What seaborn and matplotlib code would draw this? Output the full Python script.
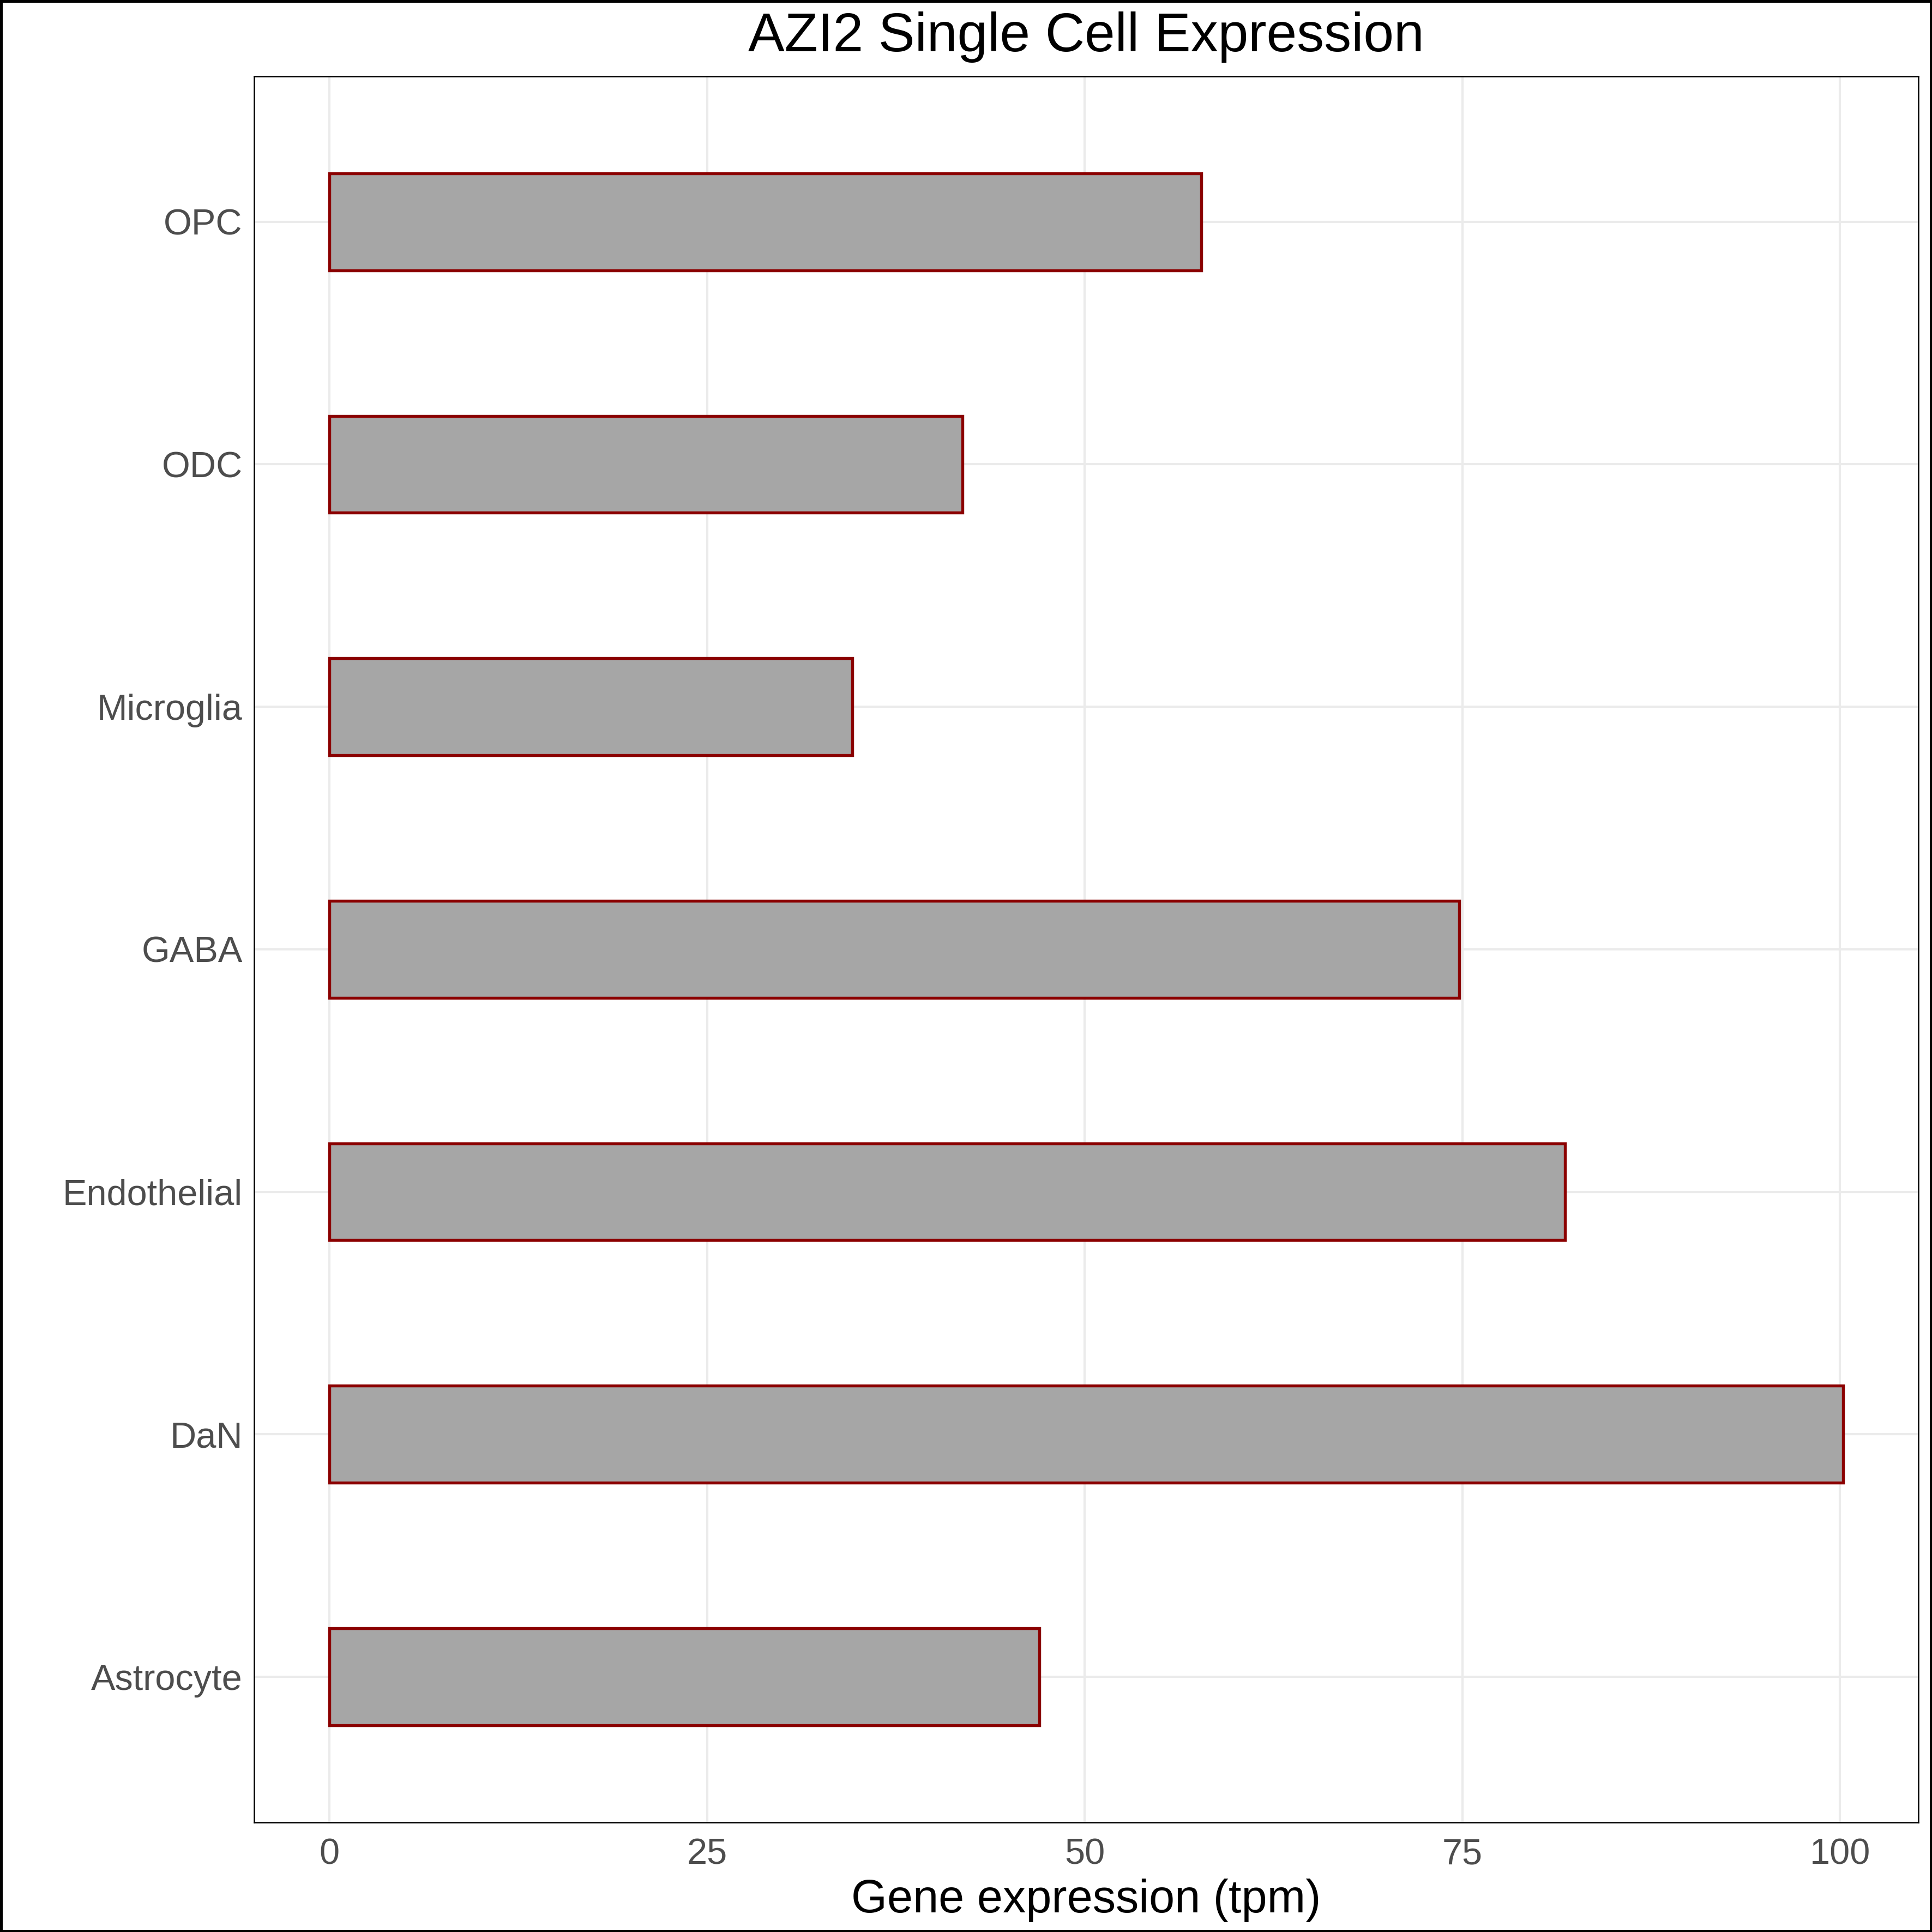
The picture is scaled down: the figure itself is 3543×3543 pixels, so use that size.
import pandas as pd
import matplotlib
matplotlib.use("Agg")
import matplotlib.pyplot as plt
import seaborn as sns
from matplotlib.patches import Rectangle

# values (top to bottom)
cell_types = ["OPC", "ODC", "Microglia", "GABA", "Endothelial", "DaN", "Astrocyte"]
expression = [57.7, 41.9, 34.6, 74.8, 81.8, 100.2, 47.0]
x_ticks = [0, 25, 50, 75, 100]

df = pd.DataFrame({"cell_type": cell_types, "tpm": expression})

sns.set_style("white")
plt.rcParams["font.family"] = ["Liberation Sans", "DejaVu Sans"]

fig = plt.figure(figsize=(11.81, 11.81), dpi=300)
ax = fig.add_axes([0.1314, 0.0568, 0.8616, 0.9037])

sns.barplot(
    data=df, x="tpm", y="cell_type", order=cell_types, orient="h",
    width=0.4, color="#A6A6A6", saturation=1,
    edgecolor="#8B0000", linewidth=1.3, ax=ax, zorder=3
)

ax.set_xlim(-5.01, 105.2)
ax.set_ylim(6.6, -0.6)
ax.set_xticks(x_ticks)
ax.grid(True, color="#EBEBEB", linewidth=1.0, zorder=0)
ax.set_axisbelow(True)
for s in ax.spines.values():
    s.set_visible(True)
    s.set_color("black")
    s.set_linewidth(0.6)

ax.tick_params(axis="both", length=0, labelsize=16, labelcolor="#4D4D4D")
ax.tick_params(axis="x", pad=7)
ax.tick_params(axis="y", pad=5)
ax.set_ylabel("")
ax.set_xlabel("Gene expression (tpm)", fontsize=20.3, color="black", labelpad=3)
ax.set_title("AZI2 Single Cell Expression", fontsize=24, color="black", pad=11)

# outer frame around the whole figure
fig.patches.append(Rectangle((0.0005, 0.0005), 0.999, 0.999, transform=fig.transFigure,
                             fill=False, edgecolor="black", linewidth=1.2))

fig.savefig("out.png", dpi=300)
